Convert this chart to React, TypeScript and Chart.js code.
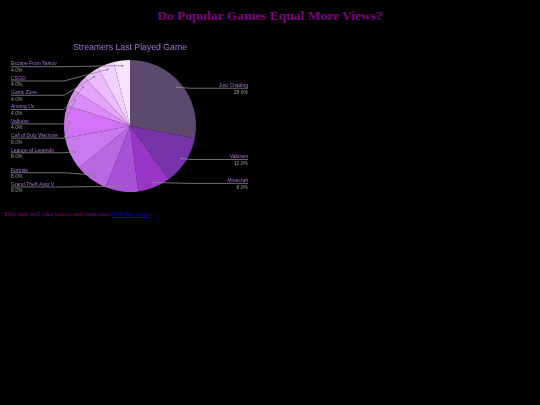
import React, { useEffect, useRef } from "react";
import { Chart, registerables } from "chart.js";

Chart.register(...registerables);

const categories = [
  "Just Chatting",
  "Valorant",
  "Minecraft",
  "Grand Theft Auto V",
  "Fortnite",
  "Leauge of Legends",
  "Call of Duty Warzone",
  "Valheim",
  "Among Us",
  "Gartic Zone",
  "CSGO",
  "Escape From Tarkov",
];
const values = [28, 12, 8, 8, 8, 8, 8, 4, 4, 4, 4, 4];
const sliceColors = [
  "#5c4a6e",
  "#7733a8",
  "#9736c6",
  "#a752d6",
  "#b868e0",
  "#c77aee",
  "#d272f6",
  "#dc8cf8",
  "#e5a3fa",
  "#ecbbfc",
  "#f3d0fd",
  "#f9e4fe",
];
const chartTitle = "Streamers Last Played Game";

const outLabels = {
  id: "outLabels",
  afterDatasetsDraw(chart: any) {
    const ctx = chart.ctx;
    const meta = chart.getDatasetMeta(0);
    const data = chart.data.datasets[0].data as number[];
    const total = data.reduce((a, b) => a + b, 0);
    const left: any[] = [];
    const right: any[] = [];
    meta.data.forEach((arc: any, i: number) => {
      const mid = (arc.startAngle + arc.endAngle) / 2;
      const r = arc.outerRadius * 0.92;
      const dx = arc.x + Math.cos(mid) * r;
      const dy = arc.y + Math.sin(mid) * r;
      const item = {
        i,
        dx,
        dy,
        y: dy,
        name: chart.data.labels[i],
        pct: ((data[i] / total) * 100).toFixed(1) + "%",
      };
      if (dx < arc.x) left.push(item);
      else right.push(item);
    });
    const gap = 14.3;
    left.sort((a, b) => a.dy - b.dy);
    for (let k = 1; k < left.length; k++) {
      left[k].y = Math.max(left[k].dy, left[k - 1].y + gap);
    }
    const bottom = chart.chartArea.bottom - 6;
    if (left.length) {
      left[left.length - 1].y = Math.min(left[left.length - 1].y, bottom);
      for (let k = left.length - 2; k >= 0; k--) {
        left[k].y = Math.min(left[k].y, left[k + 1].y - gap);
      }
    }
    const cx = meta.data[0].x;
    const lx0 = cx - 119;
    const lx1 = cx - 66;
    const rx0 = cx + 60;
    const rx1 = cx + 118;
    ctx.save();
    ctx.lineWidth = 0.8;
    ctx.strokeStyle = "#8a8a8a";
    ctx.font = "5px Arial, 'Liberation Sans', sans-serif";
    const drawOne = (it: any, side: number) => {
      const ly = it.y + 1;
      ctx.beginPath();
      if (side < 0) {
        ctx.moveTo(lx0, ly);
        ctx.lineTo(lx1, ly);
      } else {
        ctx.moveTo(rx1, ly);
        ctx.lineTo(rx0, ly);
      }
      ctx.lineTo(it.dx, it.dy);
      ctx.stroke();
      ctx.fillStyle = "#8a7a96";
      ctx.beginPath();
      ctx.arc(it.dx, it.dy, 1, 0, Math.PI * 2);
      ctx.fill();
      ctx.textAlign = side < 0 ? "left" : "right";
      const tx = side < 0 ? lx0 : rx1;
      ctx.textBaseline = "alphabetic";
      ctx.fillStyle = "#a874d0";
      ctx.fillText(it.name, tx, ly - 1.2);
      ctx.textBaseline = "top";
      ctx.fillStyle = "#9a9a9a";
      ctx.fillText(it.pct, tx, ly + 1.5);
    };
    left.forEach((it) => drawOne(it, -1));
    right.forEach((it) => drawOne(it, 1));
    ctx.restore();
  },
};

export default function App() {
  const ref = useRef<HTMLCanvasElement>(null);
  useEffect(() => {
    document.body.style.margin = "0";
    document.body.style.background = "#000";
    const chart = new Chart(ref.current as HTMLCanvasElement, {
      type: "pie",
      data: {
        labels: categories,
        datasets: [
          {
            data: values,
            backgroundColor: sliceColors,
            borderWidth: 0,
          },
        ],
      },
      options: {
        animation: false,
        responsive: false,
        maintainAspectRatio: false,
        layout: { padding: { top: 0, bottom: 8, left: 64, right: 64 } },
        plugins: {
          legend: { display: false },
          tooltip: { enabled: false },
          title: {
            display: true,
            text: chartTitle,
            color: "#a274c8",
            font: { size: 8.7, family: "Arial, 'Liberation Sans', sans-serif", weight: "normal" },
            padding: { top: 4, bottom: 7.4 },
          },
        },
      },
      plugins: [outLabels],
    });
    return () => chart.destroy();
  }, []);

  return (
    <div style={{ position: "relative", width: 540, height: 405, background: "#000" }}>
      <div
        style={{
          position: "absolute",
          top: 8,
          left: 0,
          width: 540,
          textAlign: "center",
          fontFamily: "'Liberation Serif', 'Times New Roman', serif",
          fontWeight: "bold",
          fontSize: 13.5,
          color: "#800080",
          lineHeight: "16px",
        }}
      >
        Do Popular Games Equal More Views?
      </div>
      <canvas
        ref={ref}
        width={260}
        height={162}
        style={{ position: "absolute", left: 0, top: 38, width: 260, height: 162 }}
      />
      <div
        style={{
          position: "absolute",
          top: 209,
          left: 4,
          fontFamily: "'Liberation Serif', 'Times New Roman', serif",
          fontSize: 6.7,
          lineHeight: "9px",
          color: "#800080",
          whiteSpace: "nowrap",
        }}
      >
        This link will take you to real time data{" "}
        <a href="#" style={{ color: "#0000cc" }}>
          TwitchTracker
        </a>
        .
      </div>
    </div>
  );
}
